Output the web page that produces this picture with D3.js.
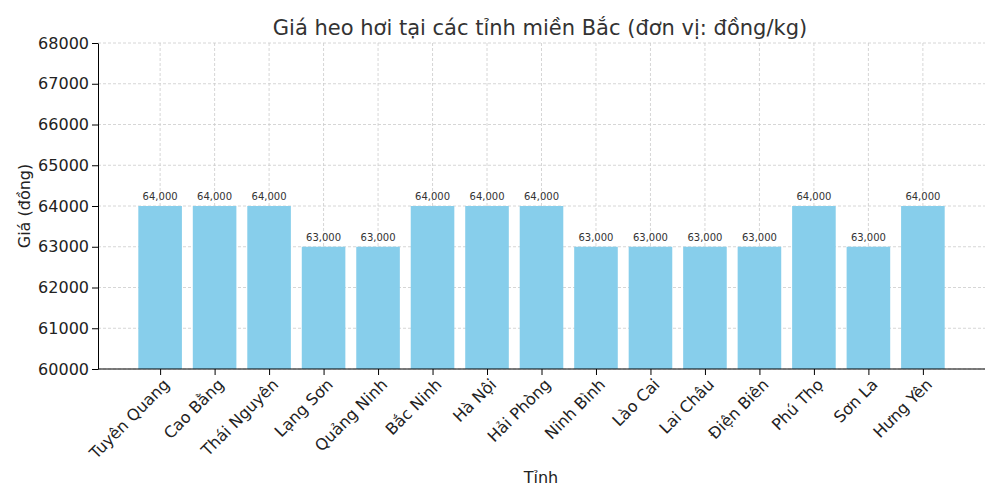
<!DOCTYPE html>
<html><head><meta charset="utf-8">
<script src="https://cdn.jsdelivr.net/npm/d3@7"></script>
<style>body{margin:0;background:#fff;font-family:"DejaVu Sans",sans-serif}</style>
</head><body><svg id="chart" width="1000" height="500"></svg>
<script>
const provinces = ["Tuyên Quang","Cao Bằng","Thái Nguyên","Lạng Sơn","Quảng Ninh","Bắc Ninh","Hà Nội","Hải Phòng","Ninh Bình","Lào Cai","Lai Châu","Điện Biên","Phú Thọ","Sơn La","Hưng Yên"];
const prices = [64000,64000,64000,63000,63000,64000,64000,64000,63000,63000,63000,63000,64000,63000,64000];
const yTicks = [60000,61000,62000,63000,64000,65000,66000,67000,68000];

const svg = d3.select("#chart");
const plotL = 98, plotR = 985, plotT = 43, plotB = 369;
const n = provinces.length, pad = (n - 1 + 0.8) * 0.05;
const x = d3.scaleLinear().domain([-0.4 - pad, n - 1 + 0.4 + pad]).range([plotL, plotR]);
const y = d3.scaleLinear().domain([60000, 68000]).range([plotB, plotT]);

// grid
svg.append("g").selectAll("line").data(yTicks).join("line")
    .attr("x1", plotL).attr("x2", plotR).attr("y1", d => y(d)).attr("y2", d => y(d))
    .attr("stroke", "#ccc").attr("stroke-dasharray", "3,2").attr("stroke-width", 0.8);
svg.append("g").selectAll("line").data(provinces).join("line")
    .attr("x1", (d, i) => x(i)).attr("x2", (d, i) => x(i)).attr("y1", plotT).attr("y2", plotB)
    .attr("stroke", "#ccc").attr("stroke-dasharray", "3,2").attr("stroke-width", 0.8);

// bars
svg.append("g").selectAll("rect").data(prices).join("rect")
    .attr("x", (d, i) => x(i - 0.4)).attr("width", x(0.8) - x(0))
    .attr("y", d => y(d)).attr("height", d => plotB - y(d))
    .attr("fill", "#87ceeb");

svg.append("g").selectAll("text").data(prices).join("text")
    .attr("x", (d, i) => x(i)).attr("y", d => y(d) - 6)
    .attr("text-anchor", "middle").attr("font-size", 10).attr("fill", "#333")
    .text(d => d3.format(",")(d));

// axes
const yAxis = svg.append("g").attr("transform", `translate(${plotL},0)`)
    .call(d3.axisLeft(y).tickValues(yTicks).tickFormat(d3.format("d")).tickSizeOuter(0));
yAxis.selectAll("text").attr("font-size", 16).attr("font-family", "DejaVu Sans").attr("fill", "#222");
const xAxis = svg.append("g").attr("transform", `translate(0,${plotB})`)
    .call(d3.axisBottom(x).tickValues(d3.range(n)).tickFormat(i => provinces[i]).tickSizeOuter(0));
xAxis.select(".domain").attr("d", `M${plotL},0H${plotR}`);
xAxis.selectAll("text").attr("font-size", 16).attr("font-family", "DejaVu Sans").attr("fill", "#222")
    .attr("text-anchor", "end").attr("dx", "-0.3em").attr("dy", "0.6em")
    .attr("transform", "rotate(-45)");

svg.append("text").attr("x", 540).attr("y", 35).attr("text-anchor", "middle")
    .attr("font-size", 21).attr("fill", "#333").text("Giá heo hơi tại các tỉnh miền Bắc (đơn vị: đồng/kg)");
svg.append("text").attr("x", 541).attr("y", 483).attr("text-anchor", "middle")
    .attr("font-size", 16).attr("fill", "#222").text("Tỉnh");
svg.append("text").attr("transform", "translate(30,206) rotate(-90)").attr("text-anchor", "middle")
    .attr("font-size", 16).attr("fill", "#222").text("Giá (đồng)");
</script></body></html>
